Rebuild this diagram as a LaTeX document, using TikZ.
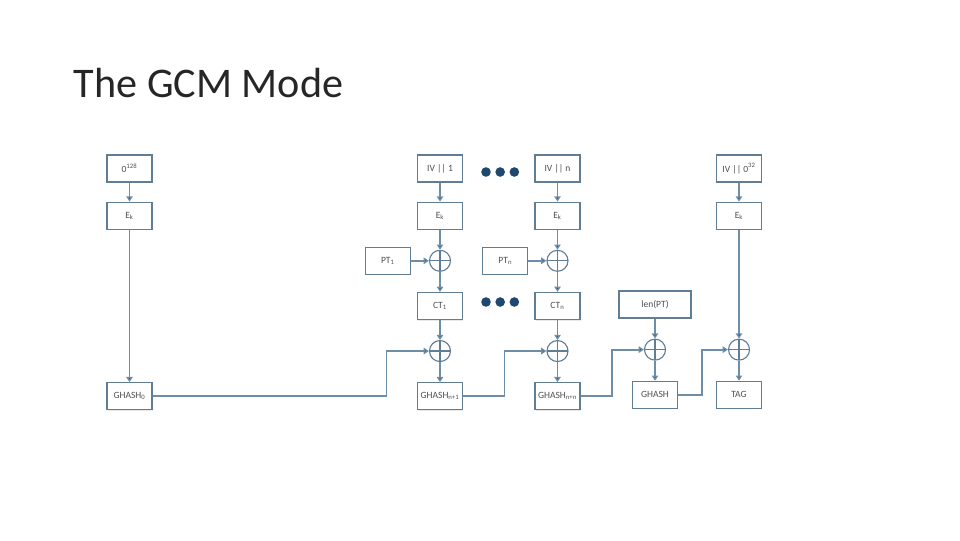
\documentclass[tikz,border=0pt]{standalone}
\usepackage{fontspec}
\setmainfont{Carlito}
\definecolor{boxline}{RGB}{96, 125, 150}
\definecolor{wire}{RGB}{110, 142, 168}
\definecolor{tipblue}{RGB}{38, 78, 112}
\definecolor{dotblue}{RGB}{30, 72, 110}
\definecolor{labelgray}{RGB}{80, 80, 80}
\usetikzlibrary{arrows.meta, positioning, shadows}

\begin{document}
\begin{tikzpicture}[
    x=0.025cm, y=-0.025cm,
    node distance=0.5cm,
    box/.style={draw=boxline, line width=0.8pt, fill=white, minimum width=1.125cm,
                minimum height=0.675cm, inner sep=1pt, align=center,
                font=\fontsize{6.8}{7}\selectfont, text=labelgray,
                drop shadow={opacity=0.18, shadow xshift=0.4pt, shadow yshift=-0.8pt}},
    xor/.style={circle, draw=boxline, line width=0.8pt, minimum size=0.525cm, inner sep=0pt,
                path picture={\draw[boxline, line width=0.8pt]
                    (path picture bounding box.north) -- (path picture bounding box.south)
                    (path picture bounding box.west) -- (path picture bounding box.east);}},
    blob/.style={circle, fill=dotblue, minimum size=0.24cm, inner sep=0pt},
    arr/.style={-{Triangle[length=1.3mm, width=1.6mm, fill=tipblue]}, wire, line width=1.3pt}
]
    \useasboundingbox (0,0) rectangle (960,540);
    \node[anchor=base west, font=\fontsize{30}{36}\selectfont, text=black!85] (title) at (69,97) {The GCM Mode};

    % top row
    \node[box] (zero) at (129.5,168.5) {0\textsuperscript{128}};
    \node[box] (iv1) at (440,168.5) {IV || 1};
    \node[box] (ivn) at (557.5,168.5) {IV || n};
    \node[box] (ivt) at (739,168.5) {IV || 0\textsuperscript{32}};

    \node[box, below=0.475cm of zero] (ekz) {E\textsubscript{k}};
    \node[box, below=0.475cm of iv1] (ek1) {E\textsubscript{k}};
    \node[box, below=0.475cm of ivn] (ekn) {E\textsubscript{k}};
    \node[box, below=0.475cm of ivt] (ekt) {E\textsubscript{k}};

    % block 1
    \node[xor, below=of ek1] (xa1) {};
    \node[box, left=0.45cm of xa1] (pt1) {PT\textsubscript{1}};
    \node[box, below=of xa1] (ct1) {CT\textsubscript{1}};
    \node[xor, below=of ct1] (xb1) {};
    \node[box, below=of xb1] (gh1) {GHASH\textsubscript{n+1}};

    % block n
    \node[xor, below=of ekn] (xan) {};
    \node[box, left=0.45cm of xan] (ptn) {PT\textsubscript{n}};
    \node[box, below=of xan] (ctn) {CT\textsubscript{n}};
    \node[xor, below=of ctn] (xbn) {};
    \node[box, below=of xbn] (ghn) {GHASH\textsubscript{n+n}};

    % length block and tag
    \node[box, minimum width=1.8cm] (len) at (655,304.5) {len(PT)};
    \node[xor, below=of len] (xl) {};
    \node[box, below=of xl] (ghl) {GHASH};
    \node[xor] (xt) at (ekt |- xl) {};
    \node[box] (tag) at (ekt |- ghl) {TAG};
    \node[box] (ghz) at (ekz |- gh1) {GHASH\textsubscript{0}};

    % dots
    \node[blob] (d1) at (486,172) {};
    \node[blob, right=0.1cm of d1] (d2) {};
    \node[blob, right=0.1cm of d2] (d3) {};
    \node[blob] (d4) at (486,302) {};
    \node[blob, right=0.1cm of d4] (d5) {};
    \node[blob, right=0.1cm of d5] (d6) {};

    % vertical flow
    \draw[arr] (zero) -- (ekz);
    \draw[arr] (ekz) -- (ghz);
    \draw[arr] (iv1) -- (ek1);
    \draw[arr] (ek1) -- (xa1);
    \draw[arr] (xa1) -- (ct1);
    \draw[arr] (ct1) -- (xb1);
    \draw[arr] (xb1) -- (gh1);
    \draw[arr] (ivn) -- (ekn);
    \draw[arr] (ekn) -- (xan);
    \draw[arr] (xan) -- (ctn);
    \draw[arr] (ctn) -- (xbn);
    \draw[arr] (xbn) -- (ghn);
    \draw[arr] (len) -- (xl);
    \draw[arr] (xl) -- (ghl);
    \draw[arr] (ivt) -- (ekt);
    \draw[arr] (ekt) -- (xt);
    \draw[arr] (xt) -- (tag);

    % side inputs
    \draw[arr] (pt1) -- (xa1);
    \draw[arr] (ptn) -- (xan);

    % hash chain
    \draw[arr] (ghz.east) -| ([xshift=-1.06cm]xb1.west) -- (xb1.west);
    \draw[arr] (gh1.east) -| ([xshift=-1.05cm]xbn.west) -- (xbn.west);
    \draw[arr] (ghn.east) -| ([xshift=-0.79cm]xl.west) -- (xl.west);
    \draw[arr] (ghl.east) -| ([xshift=-0.64cm]xt.west) -- (xt.west);
\end{tikzpicture}
\end{document}
